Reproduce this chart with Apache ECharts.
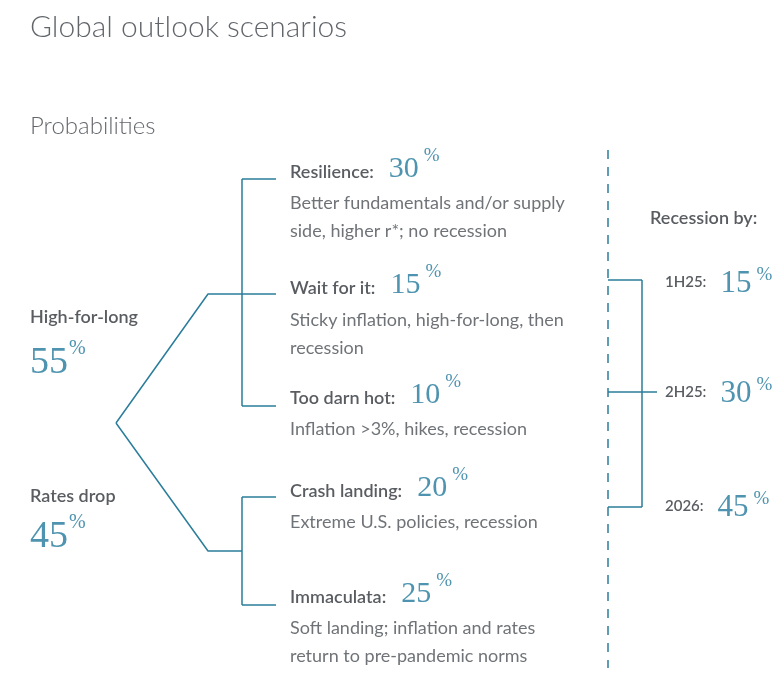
<!DOCTYPE html>
<html><head><meta charset="utf-8">
<script src="https://cdn.jsdelivr.net/npm/echarts@6/dist/echarts.min.js"></script>
<style>html,body{margin:0;padding:0;background:#fff}#c{width:784px;height:676px}</style>
</head><body><div id="c"></div><script>
// ---- content / data ----
const titleText = 'Global outlook scenarios';
const subtitleText = 'Probabilities';
const branchNames = ['High-for-long', 'Rates drop'];
const branchProbs = [55, 45];
const scenarioNames = ['Resilience:', 'Wait for it:', 'Too darn hot:', 'Crash landing:', 'Immaculata:'];
const scenarioProbs = [30, 15, 10, 20, 25];
const scenarioBranch = [0, 0, 0, 1, 1];
const scenarioDescs = [
  ['Better fundamentals and/or supply', 'side, higher r*; no recession'],
  ['Sticky inflation, high-for-long, then', 'recession'],
  ['Inflation >3%, hikes, recession'],
  ['Extreme U.S. policies, recession'],
  ['Soft landing; inflation and rates', 'return to pre-pandemic norms']
];
const recessionTitle = 'Recession by:';
const recessionPeriods = ['1H25:', '2H25:', '2026:'];
const recessionProbs = [15, 30, 45];

// ---- layout (positions, not data) ----
const W = 784, H = 676;
const L = {
  textX: 30, titleY: 27, subY: 126,
  branchNameY: [317, 496], branchNumY: [363, 537],
  rootX: 116, rootY: 423, joinX: 208, bracketX: 242, stubX: 276,
  headX: 290, rowHeadY: [172, 288, 398, 491, 597], rowLineY: [179, 294, 406, 497, 605],
  descY0: [203, 320, 429, 522, 628], descLH: 28,
  dashX: 608, dashTop: 150, dashBottom: 668,
  recTitleX: 650, recTitleY: 218, recX: 665, recHeadY: [282, 392, 506],
  recLineY: [280, 392, 507], recBracketX: 642, recMidEnd: 657
};
const TEAL = '#22789b';
const LINE = '#2a7d9a';
const DARK = '#2f3439';
const GREY = '#4b5055';
const SANS = 'Lato';
const SERIF = 'Liberation Serif';

// ---- connectors ----
const segs = [];
function seg(pts, dashed) {
  segs.push({
    type: 'line', data: pts, symbol: 'none', silent: true, animation: false,
    lineStyle: { color: LINE, width: 1.5, type: dashed ? [9, 8] : 'solid' }
  });
}
[0, 1].forEach(b => {
  const rows = scenarioBranch.map((v, i) => v === b ? i : -1).filter(i => i >= 0);
  const ys = rows.map(i => L.rowLineY[i]);
  const top = Math.min(...ys), bot = Math.max(...ys);
  const joinY = rows.length % 2 ? L.rowLineY[rows[(rows.length - 1) / 2]] : (top + bot) / 2;
  seg([[L.rootX, L.rootY], [L.joinX, joinY], [L.bracketX, joinY]]);
  seg([[L.bracketX, top], [L.bracketX, bot]]);
  rows.forEach(i => seg([[L.bracketX, L.rowLineY[i]], [L.stubX, L.rowLineY[i]]]));
});
seg([[L.dashX, L.dashTop], [L.dashX, L.dashBottom]], true);
seg([[L.recBracketX, L.recLineY[0]], [L.recBracketX, L.recLineY[L.recLineY.length - 1]]]);
L.recLineY.forEach((y, i) => {
  const end = i === 1 ? L.recMidEnd : L.recBracketX;
  seg([[L.dashX, y], [end, y]]);
});

// ---- texts ----
const texts = [];
function txt(x, y, label) {
  texts.push({ value: [x, y], label: Object.assign({ show: true, position: 'right', distance: 0 }, label) });
}
txt(L.textX, L.titleY, { formatter: titleText, fontFamily: SANS, fontSize: 30, fontWeight: 300, color: '#3a3f45' });
txt(L.textX, L.subY, { formatter: subtitleText, fontFamily: SANS, fontSize: 24, fontWeight: 300, color: '#3a3f45' });

// all tokens middle-aligned; vertical offsets via asymmetric padding (shift = (top-bottom)/2)
const pad = (lift, left) => [Math.max(0, -lift * 2), 0, Math.max(0, lift * 2), left];
const numRich = (nSize, vSize, pSize, gap, vLift, pGap, pLift) => ({
  n: { fontFamily: SANS, fontSize: nSize, fontWeight: 600, color: DARK, verticalAlign: 'middle', lineHeight: nSize + 4 },
  v: { fontFamily: SERIF, fontSize: vSize, color: TEAL, verticalAlign: 'middle', lineHeight: vSize + 2, padding: pad(vLift, gap) },
  p: { fontFamily: SERIF, fontSize: pSize, color: TEAL, verticalAlign: 'middle', lineHeight: pSize + 2, padding: pad(pLift, pGap) }
});

branchNames.forEach((name, i) => {
  txt(L.textX, L.branchNameY[i], { formatter: name, fontFamily: SANS, fontSize: 18, fontWeight: 600, color: DARK });
  txt(L.textX, L.branchNumY[i], { formatter: `{v|${branchProbs[i]}}{p|%}`, rich: numRich(18, 38, 20, 0, 0, 1, 14) });
});

scenarioNames.forEach((name, i) => {
  txt(L.headX, L.rowHeadY[i], { formatter: `{n|${name}}{v|${scenarioProbs[i]}}{p|%}`, rich: numRich(18, 30, 19, 15, 2.5, 5, 16) });
  const d = scenarioDescs[i];
  txt(L.headX, L.descY0[i] + (d.length - 1) * L.descLH / 2, {
    formatter: d.join('\n'), fontFamily: SANS, fontSize: 18, lineHeight: L.descLH, color: GREY
  });
});

txt(L.recTitleX, L.recTitleY, { formatter: recessionTitle, fontFamily: SANS, fontSize: 18, fontWeight: 600, color: DARK });
recessionPeriods.forEach((p, i) => {
  txt(L.recX, L.recHeadY[i], { formatter: `{n|${p}}{v|${recessionProbs[i]}}{p|%}`, rich: numRich(15, 31, 19, 14, -2, 5, 7) });
});

const chart = echarts.init(document.getElementById('c'), null, { renderer: 'canvas' });
chart.setOption({
  animation: false,
  backgroundColor: '#fff',
  grid: { left: 0, right: 0, top: 0, bottom: 0 },
  xAxis: { type: 'value', min: 0, max: W, show: false },
  yAxis: { type: 'value', min: 0, max: H, inverse: true, show: false },
  series: segs.concat([{
    type: 'scatter', symbolSize: 0, silent: true, animation: false, data: texts, z: 5
  }])
});
</script></body></html>
